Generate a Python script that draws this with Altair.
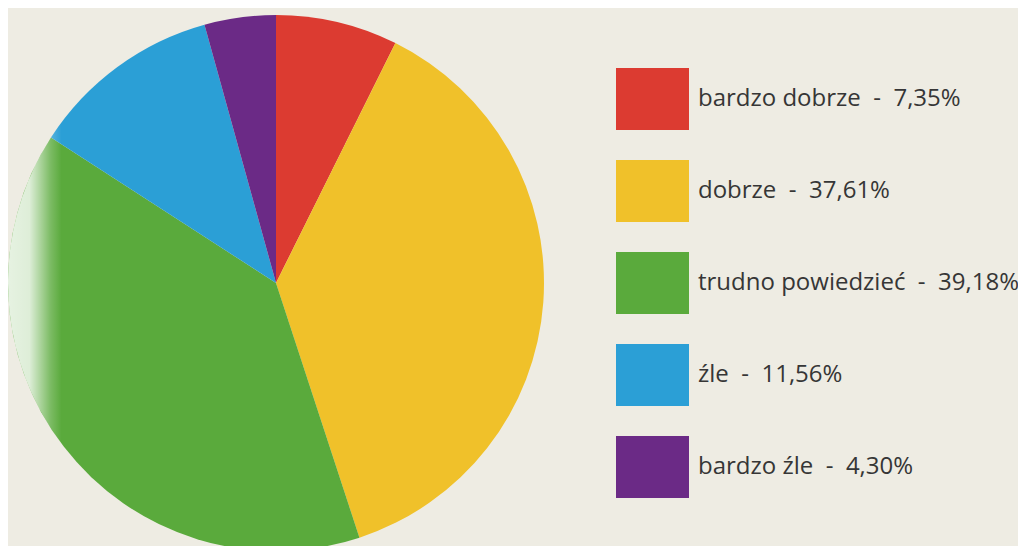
import altair as alt
import pandas as pd

categories = ["bardzo dobrze", "dobrze", "trudno powiedzieć", "źle", "bardzo źle"]
values = [7.35, 37.61, 39.18, 11.56, 4.30]
colors = ["#dc3b31", "#f0c12a", "#5aaa3c", "#2b9fd6", "#6b2a86"]

NB = "\u00a0"
labels = [f"{c}{NB}{NB}-{NB}{NB}{v:.2f}%".replace(".", ",") for c, v in zip(categories, values)]
df = pd.DataFrame({"cat": categories, "val": values, "label": labels, "ord": list(range(len(categories)))})

color_scale = alt.Scale(domain=categories, range=colors)
yscale = alt.Scale(domain=categories, range=[60, 490], paddingInner=0.326, paddingOuter=0)

base = alt.Chart(df)

pie = base.mark_arc(radius=268, stroke=None).encode(
    theta=alt.Theta("val:Q", stack=True),
    color=alt.Color("cat:N", scale=color_scale, legend=None),
    order=alt.Order("ord:Q"),
    x=alt.value(268),
    y=alt.value(275),
)

gloss_df = pd.DataFrame({"g": [1]})
gloss = alt.Chart(gloss_df).mark_arc(
    radius=268,
    theta=3.6,
    theta2=5.6,
    fill={
        "gradient": "linear",
        "x1": 0, "y1": 0.5, "x2": 1, "y2": 0.5,
        "stops": [
            {"offset": 0, "color": "rgba(255,255,255,0.85)"},
            {"offset": 0.08, "color": "rgba(255,255,255,0.8)"},
            {"offset": 0.16, "color": "rgba(255,255,255,0.2)"},
            {"offset": 0.2, "color": "rgba(255,255,255,0)"},
            {"offset": 1, "color": "rgba(255,255,255,0)"},
        ],
    },
).encode(x=alt.value(268), y=alt.value(275))

rects = base.mark_rect().encode(
    y=alt.Y("cat:N", scale=yscale, axis=None, sort=categories),
    x=alt.value(608),
    x2=alt.value(681),
    color=alt.Color("cat:N", scale=color_scale, legend=None),
)

texts = base.mark_text(
    align="left", baseline="middle", fontSize=24, font="Open Sans", color="#363636"
).encode(
    y=alt.Y("cat:N", scale=yscale, axis=None, sort=categories, bandPosition=0.5),
    x=alt.value(690),
    text="label:N",
)

chart = alt.layer(pie, gloss, rects, texts).properties(
    width=1010, height=538, padding=0, autosize="none", background="#eeece3"
).configure_view(stroke=None)

chart.save("out.html", embed_options={"renderer": "svg", "actions": False})
